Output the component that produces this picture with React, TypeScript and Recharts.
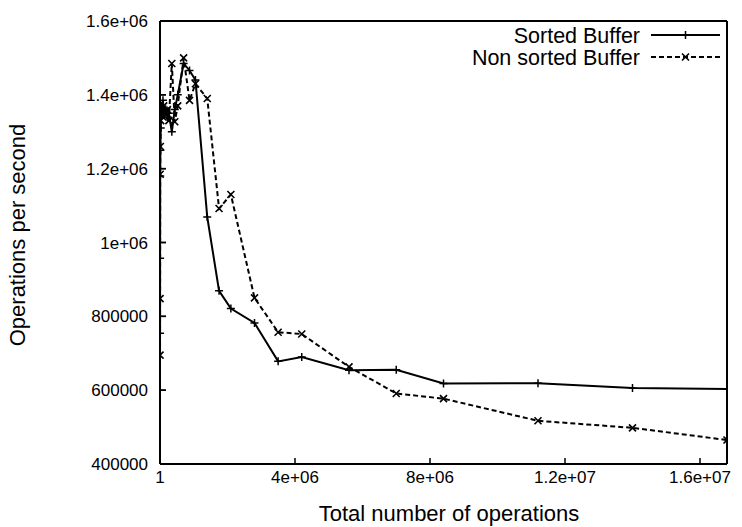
import React from 'react';
import { LineChart, Line, XAxis, YAxis, Legend, Label } from 'recharts';

const xValues = [1365, 2730, 5460, 10920, 21840, 43700, 87500, 109375, 131250, 175000, 218750, 262500, 350000, 437500, 525000, 700000, 875000, 1050000, 1400000, 1750000, 2100000, 2800000, 3500000, 4200000, 5600000, 7000000, 8400000, 11200000, 14000000, 16800000];
const sortedBuffer = [754000, 957000, 1180000, 1250000, 1310000, 1370000, 1385000, 1350000, 1345000, 1360000, 1340000, 1350000, 1300000, 1360000, 1400000, 1485000, 1466000, 1440000, 1069000, 869000, 821000, 782000, 678000, 690000, 654000, 655000, 618000, 619000, 606000, 603000];
const nonSortedBuffer = [695000, 848000, 1185000, 1260000, 1330000, 1360000, 1340000, 1370000, 1355000, 1350000, 1360000, 1330000, 1485000, 1327000, 1370000, 1500000, 1385000, 1430000, 1390000, 1092000, 1130000, 850000, 757000, 752000, 663000, 591000, 577000, 517000, 498000, 465000];

const xTicks = [1, 4000000, 8000000, 12000000, 16000000];
const xTickLabels = ['1', '4e+06', '8e+06', '1.2e+07', '1.6e+07'];
const yTicks = [400000, 600000, 800000, 1000000, 1200000, 1400000, 1600000];
const yTickLabels = ['400000', '600000', '800000', '1e+06', '1.2e+06', '1.4e+06', '1.6e+06'];
const xDomain = [1, 16800000];
const yDomain = [400000, 1600000];

const seriesNames = ['Sorted Buffer', 'Non sorted Buffer'];
const xTitle = 'Total number of operations';
const yTitle = 'Operations per second';

const rows = xValues.map((x, i) => ({ x, sorted: sortedBuffer[i], nonSorted: nonSortedBuffer[i] }));

const W = 742;
const H = 527;
const FONT = '"Liberation Sans", Arial, Helvetica, sans-serif';
const TICK_FS = 17;
const TITLE_FS = 22;
const LEGEND_FS = 21.5;

const PLOT_LEFT = 160;
const PLOT_TOP = 21;
const PLOT_BOTTOM = 464;

const fmtX = (v: number) => {
  const i = xTicks.indexOf(v);
  return i >= 0 ? xTickLabels[i] : String(v);
};
const fmtY = (v: number) => {
  const i = yTicks.indexOf(v);
  return i >= 0 ? yTickLabels[i] : String(v);
};

const PlusMark = (props: any) => {
  const { cx, cy, index } = props;
  if (cx == null || cy == null) return <g key={`p${index}`} />;
  return (
    <path key={`p${index}`} d={`M${cx - 4},${cy}h8M${cx},${cy - 4}v8`} stroke="#000" strokeWidth={1.5} fill="none" />
  );
};
const CrossMark = (props: any) => {
  const { cx, cy, index } = props;
  if (cx == null || cy == null) return <g key={`c${index}`} />;
  return (
    <path key={`c${index}`} d={`M${cx - 3.5},${cy - 3.5}l7,7M${cx - 3.5},${cy + 3.5}l7,-7`} stroke="#000" strokeWidth={1.6} fill="none" />
  );
};

const renderLegend = () => {
  const textRight = 640;
  const x1 = 651;
  const x2 = 720;
  const mid = (x1 + x2) / 2;
  const ys = [35, 57];
  return (
    <svg width={W} height={H} style={{ display: 'block', fontFamily: FONT, pointerEvents: 'none' }}>
      <line x1={PLOT_LEFT} x2={PLOT_LEFT} y1={PLOT_TOP} y2={PLOT_BOTTOM} stroke="#000" strokeWidth={2} />
      {[1000000, 800000, 600000, 1200000, 1400000].map((v) => {
        const y = PLOT_BOTTOM - ((v - yDomain[0]) / (yDomain[1] - yDomain[0])) * (PLOT_BOTTOM - PLOT_TOP);
        return <line key={v} x1={PLOT_LEFT} x2={PLOT_LEFT + 6} y1={y} y2={y} stroke="#000" strokeWidth={1.5} />;
      })}
      <text x={textRight} y={ys[0] + 7.5} textAnchor="end" fontSize={LEGEND_FS} fill="#000">{seriesNames[0]}</text>
      <line x1={x1} x2={x2} y1={ys[0]} y2={ys[0]} stroke="#000" strokeWidth={2} />
      <path d={`M${mid - 4},${ys[0]}h8M${mid},${ys[0] - 4}v8`} stroke="#000" strokeWidth={1.5} />
      <text x={textRight} y={ys[1] + 7.5} textAnchor="end" fontSize={LEGEND_FS} fill="#000">{seriesNames[1]}</text>
      <line x1={x1} x2={x2} y1={ys[1]} y2={ys[1]} stroke="#000" strokeWidth={2} strokeDasharray="5 3" />
      <path d={`M${mid - 3.5},${ys[1] - 3.5}l7,7M${mid - 3.5},${ys[1] + 3.5}l7,-7`} stroke="#000" strokeWidth={1.6} />
    </svg>
  );
};

const XTitle = () => (
  <text x={449} y={521} textAnchor="middle" fontSize={TITLE_FS} fill="#000" fontFamily={FONT}>{xTitle}</text>
);
const YTitle = () => (
  <text x={25} y={235} transform="rotate(-90 25 235)" textAnchor="middle" fontSize={TITLE_FS} fill="#000" fontFamily={FONT}>{yTitle}</text>
);

export default function App() {
  const axisLine = { stroke: '#000', strokeWidth: 2 };
  const tickLine = { stroke: '#000', strokeWidth: 1.5 };
  const tickStyle = { fill: '#000', fontSize: TICK_FS, fontFamily: FONT };
  return (
    <div style={{ width: W, height: H, fontFamily: FONT, background: '#fff', position: 'fixed', left: 0, top: 0 }}>
      <style>{'html,body{margin:0;padding:0;overflow:hidden;background:#fff}'}</style>
      <LineChart width={W} height={H} data={rows} margin={{ top: 20, right: 14, bottom: 0, left: 0 }}>
        <XAxis
          xAxisId="b"
          orientation="bottom"
          type="number"
          dataKey="x"
          domain={xDomain}
          ticks={xTicks}
          interval={0}
          tickFormatter={fmtX}
          height={63}
          tickSize={-6}
          tickMargin={13}
          axisLine={axisLine}
          tickLine={tickLine}
          tick={tickStyle}
          allowDataOverflow
        >
          <Label content={XTitle} />
        </XAxis>
        <XAxis
          xAxisId="t"
          orientation="top"
          type="number"
          dataKey="x"
          domain={xDomain}
          ticks={xTicks}
          interval={0}
          height={1}
          tickSize={-6}
          axisLine={axisLine}
          tickLine={tickLine}
          tick={false}
          allowDataOverflow
        />
        <YAxis
          yAxisId="l"
          orientation="left"
          type="number"
          domain={yDomain}
          ticks={yTicks}
          interval={0}
          tickFormatter={fmtY}
          width={160}
          tickSize={-6}
          tickMargin={18}
          axisLine={axisLine}
          tickLine={tickLine}
          tick={tickStyle}
          allowDataOverflow
        >
          <Label content={YTitle} />
        </YAxis>
        <YAxis
          yAxisId="r"
          orientation="right"
          type="number"
          domain={yDomain}
          ticks={yTicks}
          interval={0}
          width={1}
          tickSize={-6}
          axisLine={axisLine}
          tickLine={tickLine}
          tick={false}
          allowDataOverflow
        />
        <Legend
          content={renderLegend}
          layout="horizontal"
          align="center"
          verticalAlign="middle"
          wrapperStyle={{ left: 0, top: 0, width: W, height: H, pointerEvents: 'none' }}
        />
        <Line
          xAxisId="b"
          yAxisId="l"
          type="linear"
          dataKey="sorted"
          name={seriesNames[0]}
          stroke="#000"
          strokeWidth={2}
          dot={PlusMark}
          activeDot={false}
          isAnimationActive={false}
        />
        <Line
          xAxisId="b"
          yAxisId="l"
          type="linear"
          dataKey="nonSorted"
          name={seriesNames[1]}
          stroke="#000"
          strokeWidth={2}
          strokeDasharray="5 3"
          dot={CrossMark}
          activeDot={false}
          isAnimationActive={false}
        />
      </LineChart>
    </div>
  );
}
